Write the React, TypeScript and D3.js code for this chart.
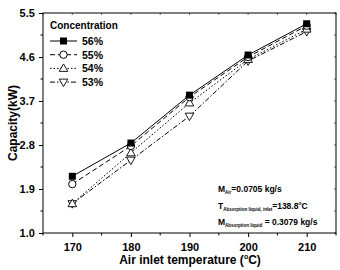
import React, { useEffect, useRef } from "react";
import * as d3 from "d3";

const temps = [170, 180, 190, 200, 210];
const c56 = [2.16, 2.84, 3.82, 4.64, 5.28];
const c55 = [2.0, 2.78, 3.78, 4.6, 5.24];
const c54 = [1.6, 2.64, 3.66, 4.55, 5.17];
const c53 = [1.6, 2.49, 3.39, 4.52, 5.12];
const seriesNames = ["56%", "55%", "54%", "53%"];
const yTicks = [1.0, 1.9, 2.8, 3.7, 4.6, 5.5];

const series = [
  { name: seriesNames[0], values: c56, dash: "", marker: "square" },
  { name: seriesNames[1], values: c55, dash: "5,3", marker: "circle" },
  { name: seriesNames[2], values: c54, dash: "1.5,2", marker: "triangle" },
  { name: seriesNames[3], values: c53, dash: "5,2,1.5,2", marker: "down" },
];

const font = "'Liberation Sans', Arial, sans-serif";

function drawMarker(g: any, type: string, x: number, y: number) {
  if (type === "square") {
    g.append("rect").attr("x", x - 3.5).attr("y", y - 3.5).attr("width", 7).attr("height", 7).attr("fill", "#000");
  } else if (type === "circle") {
    g.append("circle").attr("cx", x).attr("cy", y).attr("r", 3.7).attr("fill", "#fff").attr("stroke", "#000").attr("stroke-width", 1);
  } else if (type === "triangle") {
    g.append("path").attr("d", `M${x},${y - 4.5}L${x + 4.3},${y + 3}L${x - 4.3},${y + 3}Z`).attr("fill", "#fff").attr("stroke", "#000").attr("stroke-width", 0.9);
  } else {
    g.append("path").attr("d", `M${x},${y + 4.5}L${x + 4.3},${y - 3}L${x - 4.3},${y - 3}Z`).attr("fill", "#fff").attr("stroke", "#000").attr("stroke-width", 0.9);
  }
}

export default function App() {
  const ref = useRef<SVGSVGElement>(null);

  useEffect(() => {
    const svg = d3.select(ref.current);
    svg.selectAll("*").remove();

    const left = 43, right = 336, top = 13, bottom = 233;
    const x = d3.scaleLinear().domain([165, 215]).range([left, right]);
    const y = d3.scaleLinear().domain([1.0, 5.5]).range([bottom, top]);

    // frame
    svg.append("rect").attr("x", left).attr("y", top).attr("width", right - left).attr("height", bottom - top)
      .attr("fill", "none").attr("stroke", "#000").attr("stroke-width", 1);

    // x axis
    const xAxis = d3.axisBottom(x).tickValues(temps).tickSize(4).tickFormat(d3.format("d"));
    const gx = svg.append("g").attr("transform", `translate(0,${bottom})`).call(xAxis);
    gx.select(".domain").remove();
    gx.selectAll("text").attr("font-family", font).attr("font-weight", "bold").attr("font-size", 11).attr("fill", "#000").attr("dy", "1.0em");
    const xMinor = d3.range(165, 216, 5).filter((v) => !temps.includes(v));
    svg.append("g").selectAll("line").data(xMinor).join("line")
      .attr("x1", (d) => x(d)).attr("x2", (d) => x(d)).attr("y1", bottom).attr("y2", bottom + 2.5).attr("stroke", "#000");
    // top ticks
    svg.append("g").selectAll("line").data(d3.range(165, 216, 5)).join("line")
      .attr("x1", (d) => x(d)).attr("x2", (d) => x(d)).attr("y1", top).attr("y2", top + 2).attr("stroke", "#000").attr("stroke-width", 0.6);

    // y axis
    const yAxis = d3.axisLeft(y).tickValues(yTicks).tickSize(4).tickFormat(d3.format(".1f"));
    const gy = svg.append("g").attr("transform", `translate(${left},0)`).call(yAxis);
    gy.select(".domain").remove();
    gy.selectAll("text").attr("font-family", font).attr("font-weight", "bold").attr("font-size", 11).attr("fill", "#000").attr("dx", "-0.1em");
    const yMinor = yTicks.slice(0, -1).map((v) => v + 0.45);
    svg.append("g").selectAll("line").data(yMinor).join("line")
      .attr("x1", left).attr("x2", left - 2.5).attr("y1", (d) => y(d)).attr("y2", (d) => y(d)).attr("stroke", "#000");
    svg.append("g").selectAll("line").data(yTicks.concat(yMinor)).join("line")
      .attr("x1", right).attr("x2", right - 2).attr("y1", (d) => y(d)).attr("y2", (d) => y(d)).attr("stroke", "#000").attr("stroke-width", 0.6);

    // lines
    const line = d3.line<number>().x((_, i) => x(temps[i])).y((d) => y(d));
    series.forEach((s) => {
      svg.append("path").datum(s.values).attr("d", line).attr("fill", "none").attr("stroke", "#000")
        .attr("stroke-width", 1).attr("stroke-dasharray", s.dash);
    });
    series.slice().reverse().forEach((s) => {
      const g = svg.append("g");
      s.values.forEach((v, i) => drawMarker(g, s.marker, x(temps[i]), y(v)));
    });

    // legend
    const lg = svg.append("g");
    lg.append("text").attr("x", 50).attr("y", 29).text("Concentration")
      .attr("font-family", font).attr("font-weight", "bold").attr("font-size", 10);
    series.forEach((s, i) => {
      const yy = 41 + i * 13.7;
      lg.append("line").attr("x1", 50).attr("x2", 77).attr("y1", yy).attr("y2", yy).attr("stroke", "#000").attr("stroke-dasharray", s.dash);
      const mg = lg.append("g");
      drawMarker(mg, s.marker, 63.5, yy);
      lg.append("text").attr("x", 82).attr("y", yy + 3.8).text(s.name)
        .attr("font-family", font).attr("font-weight", "bold").attr("font-size", 10.5);
    });

    // axis titles
    svg.append("text").attr("transform", `translate(17,${(top + bottom) / 2}) rotate(-90)`).attr("text-anchor", "middle")
      .attr("font-family", font).attr("font-weight", "bold").attr("font-size", 12).text("Capacity(kW)");
    const xt = svg.append("text").attr("x", 190).attr("y", 264).attr("text-anchor", "middle")
      .attr("font-family", font).attr("font-weight", "bold").attr("font-size", 12);
    xt.append("tspan").text("Air inlet temperature (");
    xt.append("tspan").text("o").attr("font-size", 7).attr("dy", -5);
    xt.append("tspan").text("C)").attr("dy", 5);

    // annotations
    const ann = svg.append("g").attr("font-family", font).attr("font-weight", "bold").attr("fill", "#000");
    const a1 = ann.append("text").attr("x", 218).attr("y", 192).attr("font-size", 8.5);
    a1.append("tspan").text("M");
    a1.append("tspan").text("Air").attr("font-size", 4.5).attr("dy", 2);
    a1.append("tspan").text("=0.0705 kg/s").attr("dy", -2);
    const a2 = ann.append("text").attr("x", 218).attr("y", 209).attr("font-size", 8.5);
    a2.append("tspan").text("T");
    a2.append("tspan").text("Absorption liquid, inlet").attr("font-size", 4.5).attr("dy", 2);
    a2.append("tspan").text("=138.8").attr("dy", -2);
    a2.append("tspan").text("o").attr("font-size", 5).attr("dy", -4);
    a2.append("tspan").text("C").attr("dy", 4);
    const a3 = ann.append("text").attr("x", 218).attr("y", 225).attr("font-size", 8.5);
    a3.append("tspan").text("M");
    a3.append("tspan").text("Absorption liquid").attr("font-size", 4.5).attr("dy", 2);
    a3.append("tspan").text(" = 0.3079 kg/s").attr("dy", -2);
  }, []);

  return (
    <div style={{ position: "absolute", left: 0, top: 0, background: "#fff" }}>
      <svg ref={ref} width={340} height={270} style={{ display: "block" }} />
    </div>
  );
}
